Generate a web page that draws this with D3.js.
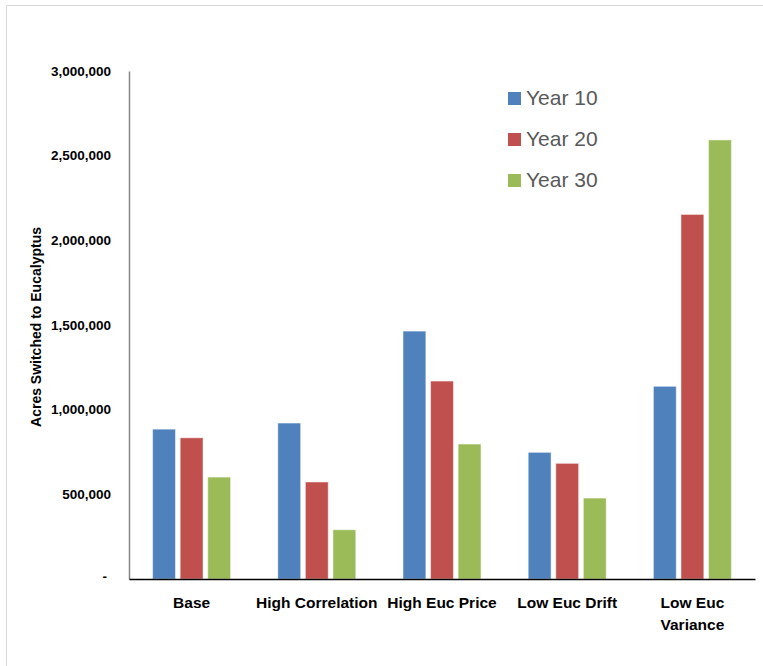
<!DOCTYPE html>
<html>
<head>
<meta charset="utf-8">
<script src="https://cdn.jsdelivr.net/npm/d3@7"></script>
<style>
  html, body { margin: 0; padding: 0; background: #fff; }
  svg { display: block; }
  .lbl { font-family: "Liberation Sans Narrow", "Liberation Sans", sans-serif; font-weight: bold; fill: #000; }
</style>
</head>
<body>
<svg id="chart" width="763" height="666"></svg>
<script>
// Scenarios on the x axis
const categories = ["Base", "High Correlation", "High Euc Price", "Low Euc Drift", "Low Euc Variance"];
// Acres switched to eucalyptus, per scenario
const year10 = [885000, 921000, 1464000, 748000, 1138000];
const year20 = [834000, 573000, 1169000, 683000, 2153000];
const year30 = [602000, 291000, 797000, 478000, 2593000];
const seriesNames = ["Year 10", "Year 20", "Year 30"];
const seriesColors = ["#4F81BD", "#C0504D", "#9BBB59"];
const yTicks = [0, 500000, 1000000, 1500000, 2000000, 2500000, 3000000];

const series = [year10, year20, year30];
const svg = d3.select("#chart");

// outer frame
svg.append("path")
  .attr("d", "M6.5,666 V5.5 H763")
  .attr("fill", "none")
  .attr("stroke", "#d9d9d9")
  .attr("stroke-width", 1);

const plot = { left: 129, right: 755, top: 71, bottom: 579 };
const groupWidth = 78;

const x = d3.scaleBand()
  .domain(categories)
  .range([plot.left, plot.right]);

const xInner = d3.scaleBand()
  .domain(seriesNames)
  .range([0, groupWidth])
  .paddingInner(0.17);

const y = d3.scaleLinear()
  .domain([0, 3000000])
  .range([plot.bottom, plot.top]);

// bars
const groups = svg.append("g").selectAll("g")
  .data(categories)
  .join("g")
  .attr("transform", d => `translate(${x(d) + x.bandwidth() / 2 - groupWidth / 2},0)`);

groups.selectAll("rect")
  .data((c, i) => series.map((s, k) => ({ name: seriesNames[k], color: seriesColors[k], value: s[i] })))
  .join("rect")
  .attr("x", d => xInner(d.name))
  .attr("width", xInner.bandwidth())
  .attr("y", d => y(d.value))
  .attr("height", d => y(0) - y(d.value))
  .attr("fill", d => d.color)
  .attr("stroke", "rgba(255,255,255,0.5)")
  .attr("stroke-width", 1);

// y axis
const fmt = d3.format(",");
const yAxis = d3.axisLeft(y)
  .tickValues(yTicks)
  .tickSize(0)
  .tickPadding(18)
  .tickFormat(d => d === 0 ? "-" : fmt(d));
const gy = svg.append("g")
  .attr("transform", `translate(${plot.left},0)`)
  .call(yAxis);
gy.select(".domain").attr("stroke", "#868686").attr("stroke-width", 1.5);
gy.selectAll("text")
  .attr("class", "lbl")
  .attr("font-size", 13.5)
  .attr("dy", "0.32em");
gy.selectAll(".tick").filter(d => d === 0).select("text").attr("dx", -4).attr("dy", "0.1em");

// x axis
const xAxis = d3.axisBottom(x).tickSize(0).tickPadding(19).tickFormat("");
const gx = svg.append("g")
  .attr("transform", `translate(0,${plot.bottom})`)
  .call(xAxis);
gx.select(".domain").attr("stroke", "#000").attr("stroke-width", 1.5);

const xLabelLines = { "Low Euc Variance": ["Low Euc", "Variance"] };
gx.selectAll(".tick").each(function(d) {
  const lines = xLabelLines[d] || [d];
  const t = d3.select(this).append("text")
    .attr("class", "lbl")
    .attr("font-size", 15.5)
    .attr("text-anchor", "middle")
    .attr("y", 29);
  lines.forEach((ln, i) => {
    t.append("tspan").attr("x", 0).attr("dy", i === 0 ? 0 : 22).text(ln);
  });
});

// y axis title
svg.append("text")
  .attr("class", "lbl")
  .attr("font-size", 14)
  .attr("text-anchor", "middle")
  .attr("transform", `translate(41,${(plot.top + plot.bottom) / 2 + 2}) rotate(-90)`)
  .text("Acres Switched to Eucalyptus");

// legend
const legend = svg.append("g").attr("transform", "translate(508,92)");
const items = legend.selectAll("g")
  .data(seriesNames)
  .join("g")
  .attr("transform", (d, i) => `translate(0,${i * 41})`);
items.append("rect")
  .attr("width", 13)
  .attr("height", 13)
  .attr("fill", (d, i) => seriesColors[i]);
items.append("text")
  .attr("x", 18)
  .attr("y", 13)
  .attr("font-family", "'Liberation Sans Narrow', 'Liberation Sans', sans-serif")
  .attr("font-size", 21)
  .attr("fill", "#595959")
  .text(d => d);
</script>
</body>
</html>
